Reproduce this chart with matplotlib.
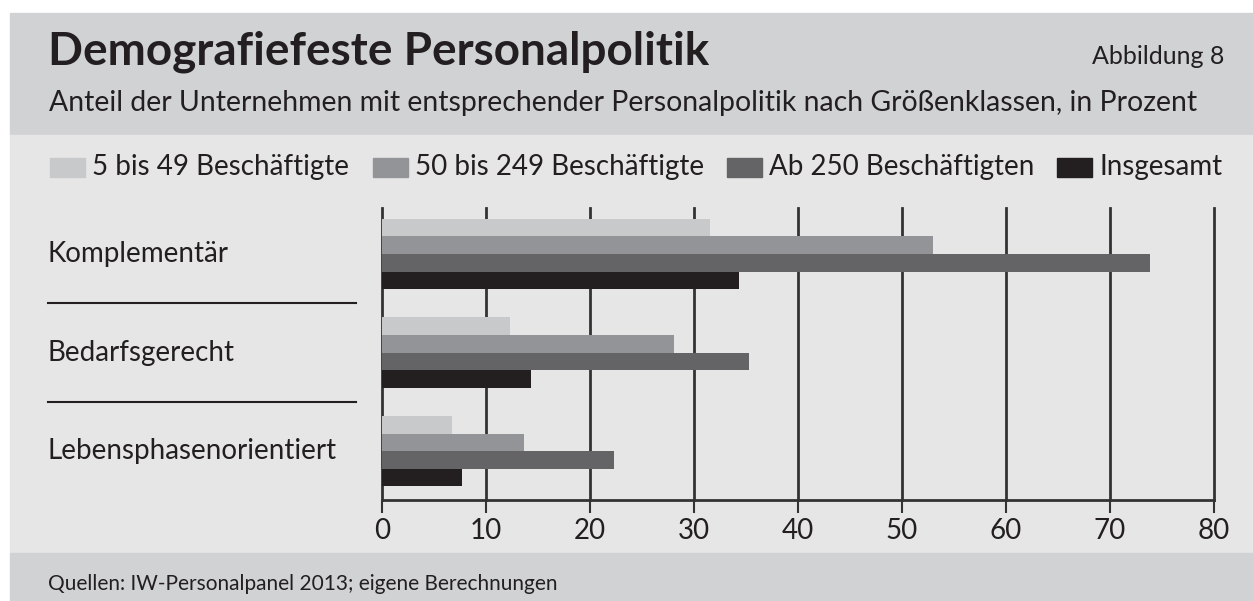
import numpy as np
import matplotlib.pyplot as plt
import matplotlib.transforms as mtransforms
from matplotlib.patches import Rectangle
from matplotlib.lines import Line2D

plt.rcParams['font.family'] = ['Lato', 'DejaVu Sans']

kategorien = ["Komplementär", "Bedarfsgerecht", "Lebensphasenorientiert"]
serien = ["5 bis 49 Beschäftigte", "50 bis 249 Beschäftigte",
          "Ab 250 Beschäftigten", "Insgesamt"]
werte_klein = [31.5, 12.3, 6.7]
werte_mittel = [53.0, 28.1, 13.7]
werte_gross = [73.8, 35.3, 22.3]
werte_gesamt = [34.3, 14.3, 7.7]
x_ticks = [0, 10, 20, 30, 40, 50, 60, 70, 80]
farben = ["#c8c9cb", "#939497", "#646466", "#231f20"]

W, H = 1253, 601
fig = plt.figure(figsize=(W / 100, H / 100), dpi=100)
fig.patch.set_facecolor("white")


def fx(px):
    return px / W


def fy(py):
    return 1 - py / H


# Hintergrundflaechen: Kopf, Diagramm, Fuss
for top, bottom, farbe in [(13, 135, "#d1d2d4"), (135, 553, "#e6e6e6"), (553, 601, "#d1d2d4")]:
    fig.patches.append(Rectangle((fx(10), fy(bottom)), 1 - fx(10), (bottom - top) / H,
                                 transform=fig.transFigure, color=farbe, zorder=-10))

fig.text(fx(48), fy(52), "Demografiefeste Personalpolitik", fontsize=33,
         fontweight="bold", color="#231f20", va="center", ha="left")
fig.text(fx(1224), fy(57), "Abbildung 8", fontsize=18, color="#231f20",
         va="center", ha="right")
fig.text(fx(49), fy(103),
         "Anteil der Unternehmen mit entsprechender Personalpolitik nach Größenklassen, in Prozent",
         fontsize=20.4, color="#231f20", va="center", ha="left")
fig.text(fx(48), fy(584), "Quellen: IW-Personalpanel 2013; eigene Berechnungen",
         fontsize=15, color="#231f20", va="center", ha="left")

# Legende
leg_x = [50, 373, 727, 1057]
for xp, name, farbe in zip(leg_x, serien, farben):
    fig.patches.append(Rectangle((fx(xp), fy(177)), 35 / W, 19 / H,
                                 transform=fig.transFigure, color=farbe, zorder=2))
    fig.text(fx(xp + 42), fy(167), name, fontsize=20, color="#231f20",
             va="center", ha="left")

ax = fig.add_axes([fx(382), fy(500), (1214 - 382) / W, (500 - 208) / H])
ax.patch.set_visible(False)

pos = np.arange(len(kategorien))
h = 0.178
reihen = [werte_klein, werte_mittel, werte_gross, werte_gesamt]
for i, (werte, farbe) in enumerate(zip(reihen, farben)):
    ax.barh(pos + (i - 1.5) * h, werte, height=h, color=farbe, zorder=3)

ax.set_xlim(0, 80)
ax.set_ylim(2.497, -0.467)
ax.set_xticks(x_ticks)
ax.set_xticklabels([str(t) for t in x_ticks])
ax.set_yticks([])
ax.xaxis.grid(True, color="#333333", linewidth=2, zorder=1)
ax.set_axisbelow(True)
for gl in ax.get_xgridlines():
    gl.set_clip_on(False)
for s in ["top", "left", "right"]:
    ax.spines[s].set_visible(False)
ax.spines["bottom"].set_color("#333333")
ax.spines["bottom"].set_linewidth(2)
ax.tick_params(axis="x", length=9, width=1.5, color="#333333",
               labelsize=20, labelcolor="#231f20", pad=4)

trans = mtransforms.blended_transform_factory(fig.transFigure, ax.transData)
for p, name in zip(pos, kategorien):
    ax.text(fx(48), p, name, transform=trans, fontsize=20, color="#231f20",
            va="center", ha="left", clip_on=False)
for p in pos[:-1] + 0.5:
    ax.add_line(Line2D([fx(48), fx(356)], [p, p], transform=trans,
                       color="#231f20", linewidth=1.5, clip_on=False))

fig.savefig("out.png", dpi=100)
